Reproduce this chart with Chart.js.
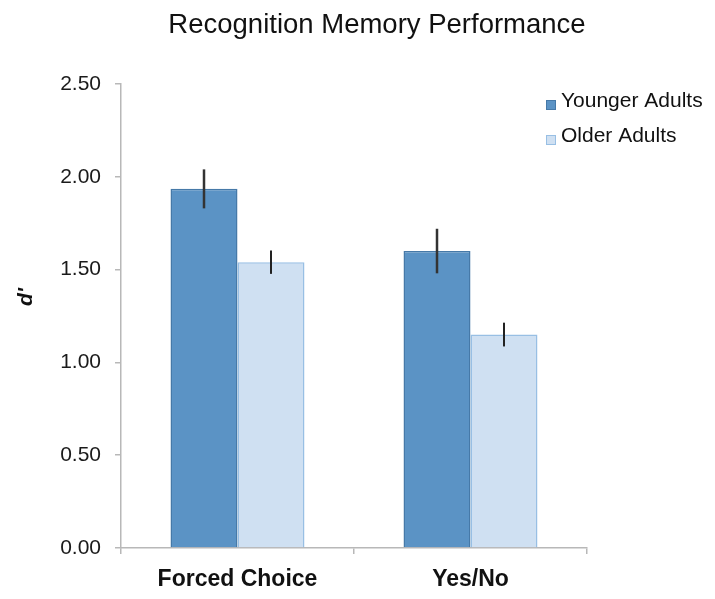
<!DOCTYPE html>
<html>
<head>
<meta charset="utf-8">
<script src="https://cdn.jsdelivr.net/npm/chart.js@4/dist/chart.umd.min.js"></script>
<style>
html,body{margin:0;padding:0;background:#fff;}
#wrap{width:715px;height:599px;position:relative;}
</style>
</head>
<body>
<div id="wrap"><canvas id="c" width="715" height="599"></canvas></div>
<script>
const chartTitle = "Recognition Memory Performance";
const yAxisLabel = "d'";
const categories = ["Forced Choice", "Yes/No"];
const seriesNames = ["Younger Adults", "Older Adults"];
const youngerValues = [1.935, 1.60];
const olderValues = [1.54, 1.15];
const youngerErrors = [0.105, 0.12];
const olderErrors = [0.063, 0.064];
const yTicks = [0, 0.5, 1.0, 1.5, 2.0, 2.5];

const FONT = "'Liberation Sans', Arial, Helvetica, sans-serif";

const errorBarPlugin = {
  id: 'errorBars',
  afterDatasetsDraw(chart) {
    const ctx = chart.ctx;
    const y = chart.scales.y;
    chart.data.datasets.forEach((ds, di) => {
      const meta = chart.getDatasetMeta(di);
      meta.data.forEach((bar, i) => {
        const v = ds.data[i], e = ds.errors[i];
        ctx.save();
        ctx.strokeStyle = ds.errorColor;
        ctx.lineWidth = ds.errorWidth;
        ctx.beginPath();
        ctx.moveTo(bar.x, y.getPixelForValue(v + e));
        ctx.lineTo(bar.x, y.getPixelForValue(v - e));
        ctx.stroke();
        ctx.restore();
      });
    });
  }
};

const decorPlugin = {
  id: 'decor',
  afterDraw(chart) {
    const ctx = chart.ctx;
    ctx.save();
    // title
    ctx.fillStyle = '#111';
    ctx.font = "27.5px " + FONT;
    ctx.textAlign = 'center';
    ctx.textBaseline = 'alphabetic';
    ctx.fillText(chartTitle, 377, 33);
    // y axis label
    ctx.save();
    ctx.translate(26, 297);
    ctx.rotate(-Math.PI / 2);
    ctx.font = "bold italic 21px " + FONT;
    ctx.textAlign = 'center';
    ctx.textBaseline = 'middle';
    ctx.fillText(yAxisLabel, 0, 0);
    ctx.restore();
    // legend
    const rows = [100, 135];
    chart.data.datasets.forEach((ds, di) => {
      const top = rows[di];
      ctx.fillStyle = ds.backgroundColor;
      ctx.fillRect(546, top, 10, 10);
      ctx.strokeStyle = ds.borderColor;
      ctx.lineWidth = 1;
      ctx.strokeRect(546.5, top + 0.5, 9, 9);
      ctx.fillStyle = '#111';
      ctx.font = "21px " + FONT;
      ctx.textAlign = 'left';
      ctx.textBaseline = 'alphabetic';
      ctx.fillText(ds.label, 561, top + 7);
    });
    ctx.restore();
  }
};

new Chart(document.getElementById('c'), {
  type: 'bar',
  data: {
    labels: categories,
    datasets: [
      {
        label: seriesNames[0],
        data: youngerValues,
        errors: youngerErrors,
        backgroundColor: '#5b93c5',
        borderColor: '#4679a8',
        borderWidth: 1.5,
        errorColor: '#333333',
        errorWidth: 2.5
      },
      {
        label: seriesNames[1],
        data: olderValues,
        errors: olderErrors,
        backgroundColor: '#cfe0f2',
        borderColor: '#98bfe4',
        borderWidth: 1.5,
        errorColor: '#222222',
        errorWidth: 2
      }
    ]
  },
  options: {
    responsive: false,
    animation: false,
    events: [],
    layout: { padding: { left: 0, right: 128, top: 84, bottom: 0 } },
    datasets: { bar: { categoryPercentage: 0.575, barPercentage: 1.0 } },
    plugins: {
      legend: { display: false },
      title: { display: false },
      tooltip: { enabled: false }
    },
    scales: {
      x: {
        grid: { display: true, drawOnChartArea: false, drawTicks: true, tickLength: 6, color: '#b8b8b8', offset: true, lineWidth: 1.5 },
        border: { display: true, color: '#b8b8b8', width: 1.5 },
        ticks: { color: '#111', font: { family: FONT, size: 23, weight: 'bold' }, padding: 12 },
        afterFit(s) { s.height = 51; }
      },
      y: {
        min: 0, max: 2.5,
        afterBuildTicks(s) { s.ticks = yTicks.map(v => ({ value: v })); },
        grid: { display: true, drawOnChartArea: false, drawTicks: true, tickLength: 6, color: '#b8b8b8', lineWidth: 1.5 },
        border: { display: true, color: '#b8b8b8', width: 1.5 },
        ticks: { color: '#1a1a1a', font: { family: FONT, size: 21 }, padding: 14, callback: v => Number(v).toFixed(2) },
        afterFit(s) { s.width = 121; }
      }
    }
  },
  plugins: [errorBarPlugin, decorPlugin]
});
</script>
</body>
</html>
